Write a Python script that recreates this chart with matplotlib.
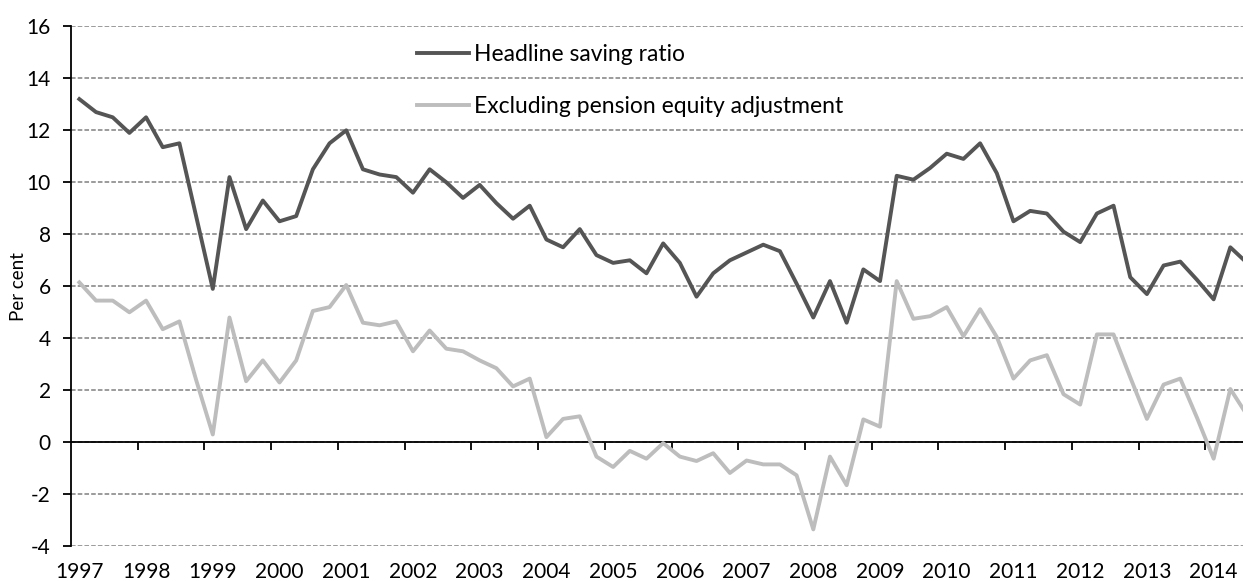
import numpy as np
import matplotlib.pyplot as plt

plt.rcParams['font.family'] = ['Lato', 'DejaVu Sans']
plt.rcParams['axes.unicode_minus'] = False

# quarterly data, 1997 Q1 onwards
years = list(range(1997, 2015))
quarters = [f"{y} Q{q}" for y in range(1997, 2015) for q in range(1, 5)][:71]

headline = [13.2, 12.7, 12.5, 11.9, 12.5, 11.35, 11.5, 8.7, 5.9, 10.2,
            8.2, 9.3, 8.5, 8.7, 10.5, 11.5, 12.0, 10.5, 10.3, 10.2,
            9.6, 10.5, 10.0, 9.4, 9.9, 9.2, 8.6, 9.1, 7.8, 7.5,
            8.2, 7.2, 6.9, 7.0, 6.5, 7.65, 6.9, 5.6, 6.5, 7.0,
            7.3, 7.6, 7.35, 6.1, 4.8, 6.2, 4.6, 6.65, 6.2, 10.25,
            10.1, 10.55, 11.1, 10.9, 11.5, 10.35, 8.5, 8.9, 8.8, 8.1,
            7.7, 8.8, 9.1, 6.35, 5.7, 6.8, 6.95, 6.25, 5.5, 7.5,
            6.9]

excl_pension = [6.15, 5.45, 5.45, 5.0, 5.45, 4.35, 4.65, 2.4, 0.3, 4.8,
                2.35, 3.15, 2.3, 3.15, 5.05, 5.2, 6.05, 4.6, 4.5, 4.65,
                3.5, 4.3, 3.6, 3.5, 3.15, 2.85, 2.15, 2.45, 0.2, 0.9,
                1.0, -0.55, -0.95, -0.33, -0.63, -0.03, -0.55, -0.72, -0.42, -1.18,
                -0.7, -0.85, -0.85, -1.27, -3.35, -0.55, -1.65, 0.88, 0.6, 6.2,
                4.75, 4.85, 5.2, 4.08, 5.12, 4.05, 2.45, 3.15, 3.35, 1.85,
                1.45, 4.15, 4.15, 2.5, 0.9, 2.22, 2.45, 0.95, -0.63, 2.05,
                1.05]

x = np.arange(len(quarters))

fig = plt.figure(figsize=(12.43, 5.81), dpi=100)
ax = fig.add_axes([71/1243, 34.7/581, 1 - 71/1243, 520/581])

ax.plot(x, headline, color='#555555', lw=2.8, solid_joinstyle='round',
        label='Headline saving ratio', zorder=3)
ax.plot(x, excl_pension, color='#bdbdbd', lw=2.8, solid_joinstyle='round',
        label='Excluding pension equity adjustment', zorder=3)

ax.set_ylim(-4, 16)
ax.set_xlim(-0.5, 69.76)
ax.set_yticks(range(-4, 17, 2))
ax.grid(axis='y', color='#808080', lw=1.1, linestyle=(0, (3, 1.4)))
ax.set_axisbelow(True)

for s in ['top', 'right']:
    ax.spines[s].set_visible(False)
ax.spines['left'].set_linewidth(1.3)
ax.spines['bottom'].set_position(('data', 0))
ax.spines['bottom'].set_linewidth(1.3)

# year labels at Q1, tick marks at year boundaries
ax.set_xticks(x[::4])
ax.set_xticklabels([str(y) for y in years])
ax.set_xticks(np.arange(3.5, 70, 4), minor=True)
ax.tick_params(axis='x', which='major', length=0, pad=86, labelsize=15)
ax.tick_params(axis='x', which='minor', length=5.5, width=1.3, direction='out')
ax.tick_params(axis='y', length=5.5, width=1.3, pad=9, labelsize=15)

ax.set_ylabel('Per cent', fontsize=13.5, labelpad=0)

ax.legend(loc='upper left', bbox_to_anchor=(0.295, 0.966), frameon=False,
          fontsize=16.5, handlelength=2.3, handletextpad=0.2,
          labelspacing=1.35, borderpad=0, borderaxespad=0)

fig.savefig('out.png', dpi=100)
